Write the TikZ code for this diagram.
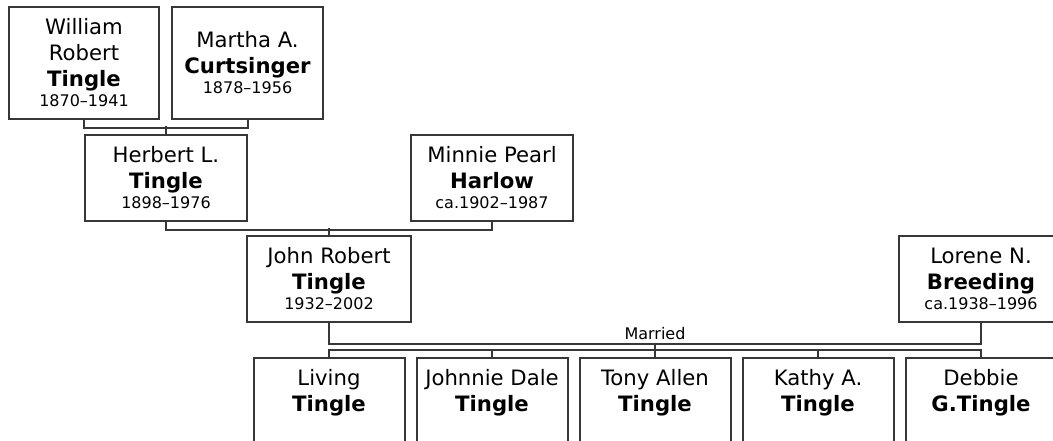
\documentclass[tikz,border=0pt]{standalone}
\usepackage{fontspec}
\setmainfont{DejaVu Sans}
\usetikzlibrary{calc,positioning}
\definecolor{treeLine}{RGB}{55,55,55}
\newcommand{\yrs}[1]{\\[-3pt]{\fontsize{8}{10}\selectfont #1}}

\begin{document}
\begin{tikzpicture}[x=0.5pt,y=-0.5pt,
  person/.style={rectangle,draw=treeLine,line width=1pt,fill=white,
                 minimum width=#1,minimum height=43pt,inner sep=0pt,
                 align=center,font=\fontsize{10.6}{13}\selectfont},
  link/.style={draw=treeLine,line width=1pt}
]
\useasboundingbox (0,0) rectangle (1053,440);
\clip (0,0) rectangle (1053,440);

% Grandparents
\node[person=75pt,minimum height=56pt] (will) at (84,63)
  {William\\Robert\\\textbf{Tingle}\yrs{1870--1941}};
\node[person=75.5pt,minimum height=56pt] (mart) at (247.5,63)
  {Martha A.\\\textbf{Curtsinger}\yrs{1878--1956}};

% Parents
\node[person=81pt] (herb) at (166,178) {Herbert L.\\\textbf{Tingle}\yrs{1898--1976}};
\node[person=81pt] (minn) at (492,178) {Minnie Pearl\\\textbf{Harlow}\yrs{ca.1902--1987}};

% Couple
\node[person=82pt] (john) at (329,279) {John Robert\\\textbf{Tingle}\yrs{1932--2002}};
\node[person=82pt] (lore) at (981,279) {Lorene N.\\\textbf{Breeding}\yrs{ca.1938--1996}};

% Children
\foreach \id/\x/\first/\last in {
  kidA/329/Living/Tingle,
  kidB/492/Johnnie Dale/Tingle,
  kidC/655/Tony Allen/Tingle,
  kidD/818/Kathy A./Tingle,
  kidE/981/Debbie/G.Tingle}
{
  \node[person=75.5pt] (\id) at (\x,401) {\first\\\textbf{\last}\yrs{\phantom{0}}};
}

% Connectors
\draw[link] (will.south) -- ++(0,8) -| (mart.south);
\draw[link] (herb.north) -- ++(0,-8);
\draw[link] (herb.south) -- ++(0,8) -| (minn.south);
\draw[link] (john.north) -- ++(0,-7);
\coordinate (wed) at ($(john.south)!0.5!(lore.south)+(0,21)$);
\draw[link] (john.south) -- ++(0,21) -| (lore.south);
\node[font=\fontsize{8}{10}\selectfont,above,inner sep=2pt] (wedlbl) at (wed) {Married};
\draw[link] (kidA.north) -- ++(0,-7) -| (kidE.north);
\draw[link] (kidB.north) -- ++(0,-7);
\draw[link] (kidC.north) -- (wed);
\draw[link] (kidD.north) -- ++(0,-7);
\end{tikzpicture}
\end{document}
